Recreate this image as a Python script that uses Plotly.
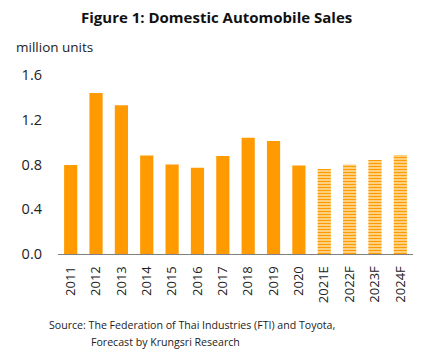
import plotly.graph_objects as go

years = ["2011", "2012", "2013", "2014", "2015", "2016", "2017", "2018", "2019", "2020"]
actual = [0.795, 1.44, 1.33, 0.88, 0.80, 0.77, 0.875, 1.04, 1.01, 0.79]
f_years = ["2021E", "2022F", "2023F", "2024F"]
forecast = [0.76, 0.80, 0.84, 0.885]
yticks = [0.0, 0.4, 0.8, 1.2, 1.6]

FONT = "Open Sans"
ORANGE = "#FF9A00"

fig = go.Figure()
fig.add_trace(go.Bar(x=years, y=actual, marker_color=ORANGE, marker_line_width=0))
fig.add_trace(go.Bar(
    x=f_years, y=forecast,
    marker=dict(color="#FFE2A6", line_width=0,
                pattern=dict(shape="-", size=3, solidity=0.5,
                             fgcolor=ORANGE, bgcolor="#FFE2A6", fgopacity=1)),
))

fig.update_layout(
    width=435, height=355,
    margin=dict(l=58, r=22, t=75, b=101),
    paper_bgcolor="white", plot_bgcolor="white",
    showlegend=False, bargap=0.48,
    font=dict(family=FONT, color="#222222"),
)
fig.update_xaxes(
    categoryorder="array", categoryarray=years + f_years,
    tickangle=-90, tickfont=dict(size=13, color="#222222"),
    showline=True, linecolor="#808080", linewidth=1,
    ticks="", showgrid=False, ticklabelstandoff=6, automargin=False,
)
fig.update_yaxes(
    range=[0, 1.6], tickvals=yticks, ticktext=[f"{v:.1f}" for v in yticks],
    tickfont=dict(size=14.5, color="#222222"), showgrid=False, zeroline=False,
    showline=False, ticklabelstandoff=15, automargin=False,
)
fig.add_annotation(text="<b>Figure 1: Domestic Automobile Sales</b>", xref="paper", yref="paper",
                   x=(216 - 58) / 355, y=1 + (75 - 17) / 179, xanchor="center", yanchor="middle",
                   showarrow=False, font=dict(size=15, family=FONT, color="#111111"))
fig.add_annotation(text="million units", xref="paper", yref="paper",
                   x=(14 - 58) / 355, y=1 + (75 - 47) / 179, xanchor="left", yanchor="middle",
                   showarrow=False, font=dict(size=13.5, family=FONT, color="#222222"))
fig.add_annotation(text="Source: The Federation of Thai Industries (FTI) and Toyota,", xref="paper", yref="paper",
                   x=(47 - 58) / 355, y=-(325 - 254) / 179, xanchor="left", yanchor="middle",
                   showarrow=False, font=dict(size=10.6, family=FONT, color="#222222"))
fig.add_annotation(text="Forecast by Krungsri Research", xref="paper", yref="paper",
                   x=(89 - 58) / 355, y=-(342 - 254) / 179, xanchor="left", yanchor="middle",
                   showarrow=False, font=dict(size=10.6, family=FONT, color="#222222"))

fig.write_html("out.html", config={"displayModeBar": False},
               post_script="document.body.style.margin='0';")
